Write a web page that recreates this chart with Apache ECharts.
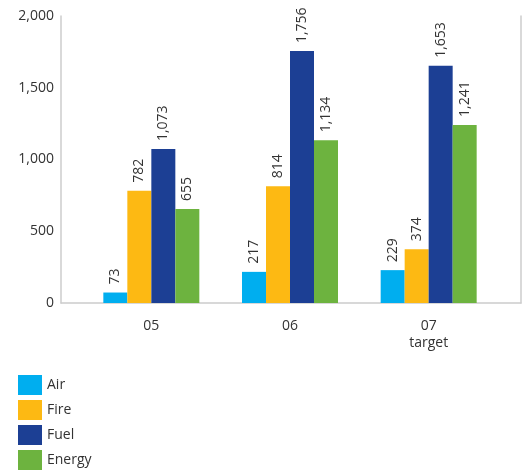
<!DOCTYPE html>
<html>
<head>
<meta charset="utf-8">
<script src="https://cdn.jsdelivr.net/npm/echarts@6/dist/echarts.min.js"></script>
<style>
  html, body { margin: 0; padding: 0; background: #fff; }
  #chart { width: 525px; height: 470px; }
</style>
</head>
<body>
<div id="chart"></div>
<script>
// Categories and values per source
const years = ['05', '06', '07\ntarget'];
const airValues = [73, 217, 229];
const fireValues = [782, 814, 374];
const fuelValues = [1073, 1756, 1653];
const energyValues = [655, 1134, 1241];
const seriesNames = ['Air', 'Fire', 'Fuel', 'Energy'];
const seriesColors = ['#00aeef', '#fdb913', '#1c3f94', '#6db33f'];
const yTicks = [0, 500, 1000, 1500, 2000];

const fmt = v => Number(v).toLocaleString('en-US');
const FONT = 'Open Sans';
const frameLine = { show: true, lineStyle: { color: '#cccccc', width: 1.5 } };

const chart = echarts.init(document.getElementById('chart'));

const seriesData = [airValues, fireValues, fuelValues, energyValues];

chart.setOption({
  animation: false,
  textStyle: { fontFamily: FONT },
  grid: [
    // outer frame with the value scale
    { left: 61, right: 4, top: 16, bottom: 167 },
    // inner area holding the bar groups
    { left: 82, right: 27, top: 16, bottom: 167 }
  ],
  legend: {
    orient: 'vertical',
    left: 18,
    top: 375,
    height: 95,
    padding: 0,
    itemWidth: 24,
    itemHeight: 20,
    itemGap: 5,
    icon: 'rect',
    data: seriesNames,
    textStyle: { fontFamily: FONT, fontSize: 14, color: '#333', padding: [4, 0, 0, 0] }
  },
  xAxis: [
    {
      gridIndex: 0, type: 'value', min: 0, max: 1,
      axisLine: frameLine, axisTick: { show: false },
      axisLabel: { show: false }, splitLine: { show: false }
    },
    {
      gridIndex: 1, type: 'category', data: years,
      axisLine: { show: false }, axisTick: { show: false },
      axisLabel: {
        margin: 15, fontFamily: FONT, fontSize: 14, color: '#333', lineHeight: 17
      }
    }
  ],
  yAxis: [
    {
      gridIndex: 0, type: 'value', min: yTicks[0], max: yTicks[yTicks.length - 1],
      interval: yTicks[1] - yTicks[0],
      axisLine: frameLine, axisTick: { show: false }, splitLine: { show: false },
      axisLabel: { margin: 7, fontFamily: FONT, fontSize: 14, color: '#333', formatter: fmt }
    },
    {
      gridIndex: 0, type: 'value', position: 'right', min: 0, max: 2000,
      axisLine: frameLine, axisTick: { show: false }, splitLine: { show: false },
      axisLabel: { show: false }
    },
    {
      gridIndex: 1, type: 'value', min: 0, max: 2000, show: false
    }
  ],
  series: seriesNames.map((name, i) => ({
    name,
    type: 'bar',
    xAxisIndex: 1,
    yAxisIndex: 2,
    data: seriesData[i],
    barWidth: 24,
    barGap: '0%',
    itemStyle: { color: seriesColors[i] },
    label: {
      show: true,
      position: 'top',
      rotate: 90,
      align: 'left',
      verticalAlign: 'middle',
      distance: 8,
      fontFamily: FONT,
      fontSize: 14,
      color: '#333',
      formatter: p => fmt(p.value)
    }
  }))
});
</script>
</body>
</html>
